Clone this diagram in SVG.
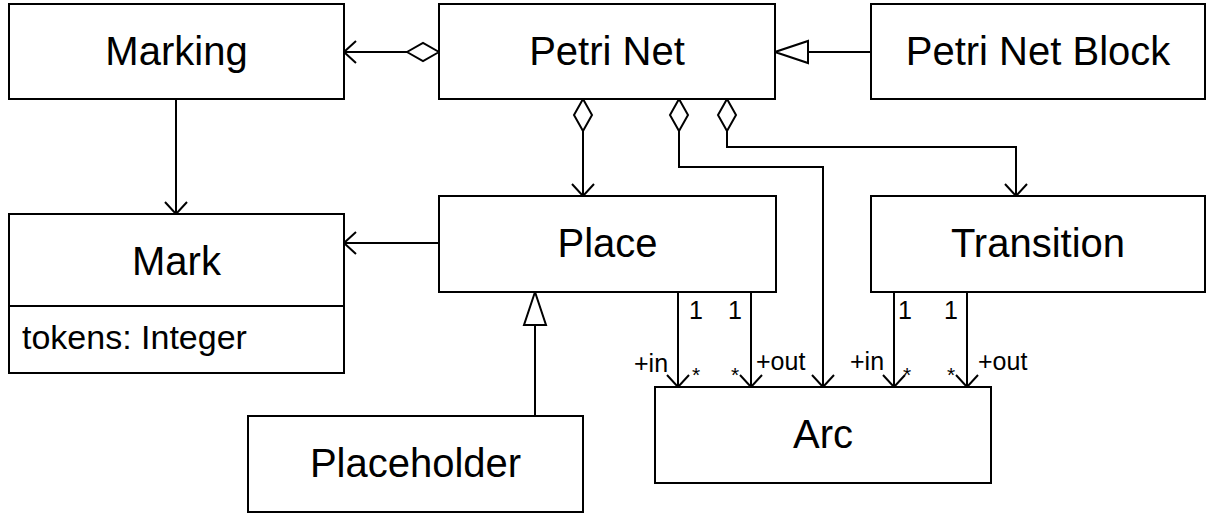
<svg xmlns="http://www.w3.org/2000/svg" width="1211" height="515" viewBox="0 0 1211 515">
  <style>
    .box { fill: #fff; stroke: #000; stroke-width: 2; }
    .ln { fill: none; stroke: #000; stroke-width: 2; }
    .name { font-family: "Liberation Sans", Arial, sans-serif; font-size: 40px; text-anchor: middle; fill: #000; }
    .attr { font-family: "Liberation Sans", Arial, sans-serif; font-size: 34px; fill: #000; }
    .lbl { font-family: "Liberation Sans", Arial, sans-serif; font-size: 25px; fill: #000; }
    .star { font-family: "Liberation Sans", Arial, sans-serif; font-size: 21px; fill: #000; }
  </style>
  <defs>
    <marker id="open" viewBox="0 0 14 24" refX="13" refY="12" markerWidth="14" markerHeight="24" markerUnits="userSpaceOnUse" orient="auto">
      <path d="M1,1 L13,12 L1,23" fill="none" stroke="#000" stroke-width="2"/>
    </marker>
    <marker id="diamond" viewBox="0 0 34 22" refX="1" refY="11" markerWidth="34" markerHeight="22" markerUnits="userSpaceOnUse" orient="auto">
      <path d="M1,11 L17,2 L33,11 L17,20 Z" fill="#fff" stroke="#000" stroke-width="2"/>
    </marker>
    <marker id="tri" viewBox="0 0 36 26" refX="34" refY="13" markerWidth="36" markerHeight="26" markerUnits="userSpaceOnUse" orient="auto">
      <path d="M34,13 L1,2 L1,24 Z" fill="#fff" stroke="#000" stroke-width="2"/>
    </marker>
  </defs>

  <g id="connectors">
    <!-- Petri Net aggregates Marking -->
    <path class="ln" d="M439,52 L344,52" marker-start="url(#diamond)" marker-end="url(#open)"/>
    <!-- Petri Net Block specialises Petri Net -->
    <path class="ln" d="M871,52 L775,52" marker-end="url(#tri)"/>
    <!-- Marking to Mark -->
    <path class="ln" d="M176,99 L176,214" marker-end="url(#open)"/>
    <!-- Place to Mark -->
    <path class="ln" d="M439,243 L344,243" marker-end="url(#open)"/>
    <!-- Petri Net aggregates Place, Arc, Transition -->
    <path class="ln" d="M583,99 L583,196" marker-start="url(#diamond)" marker-end="url(#open)"/>
    <path class="ln" d="M679,99 L679,167 L823,167 L823,387" marker-start="url(#diamond)" marker-end="url(#open)"/>
    <path class="ln" d="M727,99 L727,147 L1016,147 L1016,196" marker-start="url(#diamond)" marker-end="url(#open)"/>
    <!-- Placeholder specialises Place -->
    <path class="ln" d="M535,416 L535,292" marker-end="url(#tri)"/>
    <!-- Place to Arc -->
    <path class="ln" d="M678,292 L678,387" marker-end="url(#open)"/>
    <path class="ln" d="M751,292 L751,387" marker-end="url(#open)"/>
    <!-- Transition to Arc -->
    <path class="ln" d="M894,292 L894,387" marker-end="url(#open)"/>
    <path class="ln" d="M967,292 L967,387" marker-end="url(#open)"/>

    <!-- role and multiplicity labels -->
    <text class="lbl" x="689" y="319">1</text>
    <text class="lbl" x="728" y="319">1</text>
    <text class="lbl" x="634" y="372">+in</text>
    <text class="star" x="692" y="382">*</text>
    <text class="star" x="731" y="382">*</text>
    <text class="lbl" x="756" y="370">+out</text>

    <text class="lbl" x="898" y="319">1</text>
    <text class="lbl" x="944" y="319">1</text>
    <text class="lbl" x="850" y="370">+in</text>
    <text class="star" x="903" y="382">*</text>
    <text class="star" x="947" y="382">*</text>
    <text class="lbl" x="978" y="370">+out</text>
  </g>

  <g id="marking">
    <rect class="box" x="9" y="4" width="335" height="95"/>
    <text class="name" x="176.5" y="65">Marking</text>
  </g>

  <g id="petri-net">
    <rect class="box" x="439" y="4" width="336" height="95"/>
    <text class="name" x="607" y="65">Petri Net</text>
  </g>

  <g id="petri-net-block">
    <rect class="box" x="871" y="4" width="334" height="95"/>
    <text class="name" x="1038" y="65">Petri Net Block</text>
  </g>

  <g id="mark">
    <rect class="box" x="9" y="214" width="335" height="159"/>
    <line class="ln" x1="9" y1="306" x2="344" y2="306"/>
    <text class="name" x="176.5" y="275">Mark</text>
    <text class="attr" x="22" y="349">tokens: Integer</text>
  </g>

  <g id="place">
    <rect class="box" x="439" y="196" width="337" height="96"/>
    <text class="name" x="607.5" y="257">Place</text>
  </g>

  <g id="transition">
    <rect class="box" x="871" y="196" width="334" height="96"/>
    <text class="name" x="1038" y="257">Transition</text>
  </g>

  <g id="arc">
    <rect class="box" x="655" y="387" width="336" height="96"/>
    <text class="name" x="823" y="448">Arc</text>
  </g>

  <g id="placeholder">
    <rect class="box" x="248" y="416" width="335" height="96"/>
    <text class="name" x="415.5" y="477">Placeholder</text>
  </g>
</svg>
